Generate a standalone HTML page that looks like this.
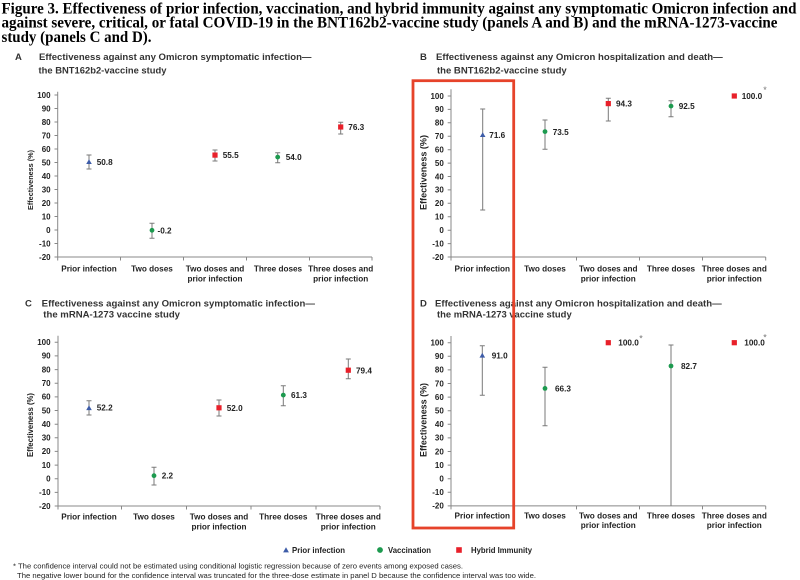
<!DOCTYPE html>
<html><head><meta charset="utf-8"><style>
html,body{margin:0;padding:0;background:#fff;}
svg{display:block;}
.t{font-family:"Liberation Serif",serif;font-weight:bold;font-size:16px;fill:#000;}
.pt{font-family:"Liberation Sans",sans-serif;font-weight:bold;font-size:9.5px;fill:#333;}
.tk{font-family:"Liberation Sans",sans-serif;font-weight:bold;font-size:8px;fill:#222;text-anchor:end;}
.cl{font-family:"Liberation Sans",sans-serif;font-weight:bold;font-size:8.2px;fill:#222;text-anchor:middle;}
.dl{font-family:"Liberation Sans",sans-serif;font-weight:bold;font-size:8.2px;fill:#222;}
.yt{font-family:"Liberation Sans",sans-serif;font-weight:bold;fill:#222;text-anchor:middle;}
.fn{font-family:"Liberation Sans",sans-serif;font-size:7.3px;fill:#222;}
.ax{stroke:#888;stroke-width:1;fill:none;}
.eb{stroke:#7a7a7a;stroke-width:1;fill:none;}
.ast{font-family:"Liberation Sans",sans-serif;font-size:9px;fill:#777;}
</style></head><body>
<svg width="800" height="580" viewBox="0 0 800 580" xmlns="http://www.w3.org/2000/svg">
<!-- Main title -->
<text class="t" x="1.5" y="13.5" textLength="795" lengthAdjust="spacingAndGlyphs">Figure 3. Effectiveness of prior infection, vaccination, and hybrid immunity against any symptomatic Omicron infection and</text>
<text class="t" x="1.5" y="27.5" textLength="776" lengthAdjust="spacingAndGlyphs">against severe, critical, or fatal COVID-19 in the BNT162b2-vaccine study (panels A and B) and the mRNA-1273-vaccine</text>
<text class="t" x="1.5" y="41.8" textLength="150" lengthAdjust="spacingAndGlyphs">study (panels C and D).</text>

<!-- Panel titles -->
<text class="pt" x="15" y="60">A</text>
<text class="pt" x="39" y="60" textLength="272.5" lengthAdjust="spacingAndGlyphs">Effectiveness against any Omicron symptomatic infection—</text>
<text class="pt" x="38.5" y="73.3" textLength="128" lengthAdjust="spacingAndGlyphs">the BNT162b2-vaccine study</text>

<text class="pt" x="420" y="60">B</text>
<text class="pt" x="436" y="60" textLength="286.7" lengthAdjust="spacingAndGlyphs">Effectiveness against any Omicron hospitalization and death—</text>
<text class="pt" x="437" y="73.3" textLength="129.7" lengthAdjust="spacingAndGlyphs">the BNT162b2-vaccine study</text>

<text class="pt" x="25" y="306.7">C</text>
<text class="pt" x="41.7" y="306.7" textLength="273.3" lengthAdjust="spacingAndGlyphs">Effectiveness against any Omicron symptomatic infection—</text>
<text class="pt" x="43.3" y="317.6" textLength="136.7" lengthAdjust="spacingAndGlyphs">the mRNA-1273 vaccine study</text>

<text class="pt" x="420" y="306.5">D</text>
<text class="pt" x="435" y="306.5" textLength="286.7" lengthAdjust="spacingAndGlyphs">Effectiveness against any Omicron hospitalization and death—</text>
<text class="pt" x="437" y="317.6" textLength="134.7" lengthAdjust="spacingAndGlyphs">the mRNA-1273 vaccine study</text>

<!-- ===== Panel A ===== -->
<g>
<path class="ax" d="M57.7 91.7 V257 H372"/>
<path class="ax" d="M54.5 95H57.7M54.5 108.5H57.7M54.5 122H57.7M54.5 135.5H57.7M54.5 149H57.7M54.5 162.5H57.7M54.5 176H57.7M54.5 189.5H57.7M54.5 203H57.7M54.5 216.5H57.7M54.5 230H57.7M54.5 243.5H57.7M54.5 257H57.7"/>
<path class="ax" d="M57.7 257V260.5M120.5 257V260.5M183.5 257V260.5M246.5 257V260.5M309.5 257V260.5M372 257V260.5"/>
<text class="tk" x="50.6" y="97.8">100</text>
<text class="tk" x="50.6" y="111.3">90</text>
<text class="tk" x="50.6" y="124.8">80</text>
<text class="tk" x="50.6" y="138.3">70</text>
<text class="tk" x="50.6" y="151.8">60</text>
<text class="tk" x="50.6" y="165.3">50</text>
<text class="tk" x="50.6" y="178.8">40</text>
<text class="tk" x="50.6" y="192.3">30</text>
<text class="tk" x="50.6" y="205.8">20</text>
<text class="tk" x="50.6" y="219.3">10</text>
<text class="tk" x="50.6" y="232.8">0</text>
<text class="tk" x="50.6" y="246.3">-10</text>
<text class="tk" x="50.6" y="259.8">-20</text>
<text class="yt" font-size="7.4" transform="translate(33,180) rotate(-90)" textLength="60" lengthAdjust="spacingAndGlyphs">Effectiveness (%)</text>
<text class="cl" x="89" y="271.3">Prior infection</text>
<text class="cl" x="152" y="271.3">Two doses</text>
<text class="cl" x="215" y="271.3">Two doses and</text>
<text class="cl" x="215" y="281.3">prior infection</text>
<text class="cl" x="278" y="271.3">Three doses</text>
<text class="cl" x="340.7" y="271.3">Three doses and</text>
<text class="cl" x="340.7" y="281.3">prior infection</text>
<path class="eb" d="M89 155V169M86.5 155H91.5M86.5 169H91.5"/>
<path class="eb" d="M152 223.3V238.3M149.5 223.3H154.5M149.5 238.3H154.5"/>
<path class="eb" d="M215 150V161M212.5 150H217.5M212.5 161H217.5"/>
<path class="eb" d="M277.7 152.7V162.7M275.2 152.7H280.2M275.2 162.7H280.2"/>
<path class="eb" d="M340.7 122.3V134M338.2 122.3H343.2M338.2 134H343.2"/>
<path d="M89 159.2 L91.8 164 L86.2 164Z" fill="#3d5ca8"/>
<circle cx="152" cy="230.3" r="2.4" fill="#1d9a4f"/>
<rect x="212.4" y="152.5" width="5.2" height="5.2" fill="#e8202a"/>
<circle cx="277.7" cy="157.1" r="2.4" fill="#1d9a4f"/>
<rect x="338.1" y="124.4" width="5.2" height="5.2" fill="#e8202a"/>
<text class="dl" x="96.7" y="165">50.8</text>
<text class="dl" x="157.5" y="233.3">-0.2</text>
<text class="dl" x="222.7" y="158">55.5</text>
<text class="dl" x="285.7" y="160">54.0</text>
<text class="dl" x="348.3" y="130">76.3</text>
</g>

<!-- ===== Panel B ===== -->
<g>
<path class="ax" d="M451 89.3 V257 H765.7"/>
<path class="ax" d="M447.7 96H451M447.7 109.4H451M447.7 122.8H451M447.7 136.3H451M447.7 149.7H451M447.7 163.1H451M447.7 176.5H451M447.7 189.9H451M447.7 203.3H451M447.7 216.8H451M447.7 230.2H451M447.7 243.6H451M447.7 257H451"/>
<path class="ax" d="M451 257V260.5M513.5 257V260.5M576.5 257V260.5M639.5 257V260.5M702.5 257V260.5M765.7 257V260.5"/>
<text class="tk" x="443.8" y="98.8">100</text>
<text class="tk" x="443.8" y="112.2">90</text>
<text class="tk" x="443.8" y="125.6">80</text>
<text class="tk" x="443.8" y="139.1">70</text>
<text class="tk" x="443.8" y="152.5">60</text>
<text class="tk" x="443.8" y="165.9">50</text>
<text class="tk" x="443.8" y="179.3">40</text>
<text class="tk" x="443.8" y="192.7">30</text>
<text class="tk" x="443.8" y="206.1">20</text>
<text class="tk" x="443.8" y="219.6">10</text>
<text class="tk" x="443.8" y="233">0</text>
<text class="tk" x="443.8" y="246.4">-10</text>
<text class="tk" x="443.8" y="259.8">-20</text>
<text class="yt" font-size="9" transform="translate(426.5,172.5) rotate(-90)" textLength="75" lengthAdjust="spacingAndGlyphs">Effectiveness (%)</text>
<text class="cl" x="482.3" y="271.3">Prior infection</text>
<text class="cl" x="545" y="271.3">Two doses</text>
<text class="cl" x="608.3" y="271.3">Two doses and</text>
<text class="cl" x="608.3" y="281.3">prior infection</text>
<text class="cl" x="671" y="271.3">Three doses</text>
<text class="cl" x="734.3" y="271.3">Three doses and</text>
<text class="cl" x="734.3" y="281.3">prior infection</text>
<path class="eb" d="M482.7 109V210M480.2 109H485.2M480.2 210H485.2"/>
<path class="eb" d="M545 120V149.3M542.5 120H547.5M542.5 149.3H547.5"/>
<path class="eb" d="M608.3 98.3V121M605.8 98.3H610.8M605.8 121H610.8"/>
<path class="eb" d="M671 100.7V116.7M668.5 100.7H673.5M668.5 116.7H673.5"/>
<path d="M482.7 132.2 L485.5 137 L479.9 137Z" fill="#3d5ca8"/>
<circle cx="545" cy="131.6" r="2.4" fill="#1d9a4f"/>
<rect x="605.7" y="101" width="5.2" height="5.2" fill="#e8202a"/>
<circle cx="671" cy="106.1" r="2.4" fill="#1d9a4f"/>
<rect x="731.7" y="93.4" width="5.2" height="5.2" fill="#e8202a"/>
<text class="dl" x="489.3" y="138">71.6</text>
<text class="dl" x="552.7" y="134.8">73.5</text>
<text class="dl" x="616" y="106.5">94.3</text>
<text class="dl" x="678.7" y="109.2">92.5</text>
<text class="dl" x="741.7" y="99">100.0</text>
<text class="ast" x="763.3" y="93">*</text>
</g>

<!-- ===== Panel C ===== -->
<g>
<path class="ax" d="M58 335.7 V506 H380"/>
<path class="ax" d="M54.7 342.3H58M54.7 355.9H58M54.7 369.6H58M54.7 383.2H58M54.7 396.9H58M54.7 410.5H58M54.7 424.2H58M54.7 437.8H58M54.7 451.4H58M54.7 465.1H58M54.7 478.7H58M54.7 492.4H58M54.7 506H58"/>
<path class="ax" d="M58 506V509.5M121.5 506V509.5M186.5 506V509.5M251 506V509.5M316 506V509.5M380 506V509.5"/>
<text class="tk" x="50.6" y="345.1">100</text>
<text class="tk" x="50.6" y="358.7">90</text>
<text class="tk" x="50.6" y="372.4">80</text>
<text class="tk" x="50.6" y="386">70</text>
<text class="tk" x="50.6" y="399.7">60</text>
<text class="tk" x="50.6" y="413.3">50</text>
<text class="tk" x="50.6" y="427">40</text>
<text class="tk" x="50.6" y="440.6">30</text>
<text class="tk" x="50.6" y="454.2">20</text>
<text class="tk" x="50.6" y="467.9">10</text>
<text class="tk" x="50.6" y="481.5">0</text>
<text class="tk" x="50.6" y="495.2">-10</text>
<text class="tk" x="50.6" y="508.8">-20</text>
<text class="yt" font-size="7.8" transform="translate(33,425) rotate(-90)" textLength="64" lengthAdjust="spacingAndGlyphs">Effectiveness (%)</text>
<text class="cl" x="89" y="519.7">Prior infection</text>
<text class="cl" x="154" y="519.7">Two doses</text>
<text class="cl" x="219" y="519.7">Two doses and</text>
<text class="cl" x="219" y="529.7">prior infection</text>
<text class="cl" x="283.3" y="519.7">Three doses</text>
<text class="cl" x="348.3" y="519.7">Three doses and</text>
<text class="cl" x="348.3" y="529.7">prior infection</text>
<path class="eb" d="M89 400.7V415M86.5 400.7H91.5M86.5 415H91.5"/>
<path class="eb" d="M154 467.3V485M151.5 467.3H156.5M151.5 485H156.5"/>
<path class="eb" d="M219 400V416M216.5 400H221.5M216.5 416H221.5"/>
<path class="eb" d="M283.3 385.7V405.7M280.8 385.7H285.8M280.8 405.7H285.8"/>
<path class="eb" d="M348.3 359V378.7M345.8 359H350.8M345.8 378.7H350.8"/>
<path d="M89 405.3 L91.8 410.1 L86.2 410.1Z" fill="#3d5ca8"/>
<circle cx="154" cy="475.7" r="2.4" fill="#1d9a4f"/>
<rect x="216.4" y="405.2" width="5.2" height="5.2" fill="#e8202a"/>
<circle cx="283.3" cy="395.1" r="2.4" fill="#1d9a4f"/>
<rect x="345.7" y="367.6" width="5.2" height="5.2" fill="#e8202a"/>
<text class="dl" x="96.7" y="410.7">52.2</text>
<text class="dl" x="161.7" y="478.7">2.2</text>
<text class="dl" x="226.7" y="410.8">52.0</text>
<text class="dl" x="291" y="398.1">61.3</text>
<text class="dl" x="356" y="373.3">79.4</text>
</g>

<!-- ===== Panel D ===== -->
<g>
<path class="ax" d="M451 336 V505.9 H765.7"/>
<path class="ax" d="M447.7 342.7H451M447.7 356.3H451M447.7 369.9H451M447.7 383.5H451M447.7 397.1H451M447.7 410.7H451M447.7 424.3H451M447.7 437.9H451M447.7 451.5H451M447.7 465.1H451M447.7 478.7H451M447.7 492.3H451M447.7 505.9H451"/>
<path class="ax" d="M451 505.9V509.4M513.5 505.9V509.4M576.5 505.9V509.4M639.5 505.9V509.4M702.5 505.9V509.4M765.7 505.9V509.4"/>
<text class="tk" x="443.8" y="345.5">100</text>
<text class="tk" x="443.8" y="359.1">90</text>
<text class="tk" x="443.8" y="372.7">80</text>
<text class="tk" x="443.8" y="386.3">70</text>
<text class="tk" x="443.8" y="399.9">60</text>
<text class="tk" x="443.8" y="413.5">50</text>
<text class="tk" x="443.8" y="427.1">40</text>
<text class="tk" x="443.8" y="440.7">30</text>
<text class="tk" x="443.8" y="454.3">20</text>
<text class="tk" x="443.8" y="467.9">10</text>
<text class="tk" x="443.8" y="481.5">0</text>
<text class="tk" x="443.8" y="495.1">-10</text>
<text class="tk" x="443.8" y="508.7">-20</text>
<text class="yt" font-size="9" transform="translate(426.5,420) rotate(-90)" textLength="74" lengthAdjust="spacingAndGlyphs">Effectiveness (%)</text>
<text class="cl" x="482.3" y="518.3">Prior infection</text>
<text class="cl" x="545" y="518.3">Two doses</text>
<text class="cl" x="608.3" y="518.3">Two doses and</text>
<text class="cl" x="608.3" y="528">prior infection</text>
<text class="cl" x="671" y="518.3">Three doses</text>
<text class="cl" x="734.3" y="518.3">Three doses and</text>
<text class="cl" x="734.3" y="528">prior infection</text>
<path class="eb" d="M482.3 345.7V395.3M479.8 345.7H484.8M479.8 395.3H484.8"/>
<path class="eb" d="M545 367.3V425.7M542.5 367.3H547.5M542.5 425.7H547.5"/>
<path class="eb" d="M671 345V505.9M668.5 345H673.5"/>
<path d="M482.3 352.8 L485.1 357.6 L479.5 357.6Z" fill="#3d5ca8"/>
<circle cx="545" cy="388.4" r="2.4" fill="#1d9a4f"/>
<rect x="605.7" y="340.1" width="5.2" height="5.2" fill="#e8202a"/>
<circle cx="671" cy="366" r="2.4" fill="#1d9a4f"/>
<rect x="731.7" y="340.1" width="5.2" height="5.2" fill="#e8202a"/>
<text class="dl" x="491.7" y="358.5">91.0</text>
<text class="dl" x="555" y="391.5">66.3</text>
<text class="dl" x="618.3" y="345.7">100.0</text>
<text class="ast" x="639.3" y="341.5">*</text>
<text class="dl" x="681" y="369">82.7</text>
<text class="dl" x="744.3" y="345.7">100.0</text>
<text class="ast" x="763.3" y="340.5">*</text>
</g>

<!-- Red highlight box -->
<rect x="413" y="80.7" width="100.7" height="447.3" fill="none" stroke="#e6432a" stroke-width="2.8"/>

<!-- Legend -->
<path d="M286 547.2 L288.9 552.4 L283.1 552.4Z" fill="#3d5ca8"/>
<text class="dl" x="292" y="552.8" textLength="53" lengthAdjust="spacingAndGlyphs">Prior infection</text>
<circle cx="380" cy="550" r="2.9" fill="#1d9a4f"/>
<text class="dl" x="388" y="552.8" textLength="43" lengthAdjust="spacingAndGlyphs">Vaccination</text>
<rect x="456.2" y="547.2" width="5.6" height="5.6" fill="#e8202a"/>
<text class="dl" x="471" y="552.8" textLength="61" lengthAdjust="spacingAndGlyphs">Hybrid Immunity</text>

<!-- Footnotes -->
<text class="fn" x="13" y="568.5" textLength="450" lengthAdjust="spacingAndGlyphs">* The confidence interval could not be estimated using conditional logistic regression because of zero events among exposed cases.</text>
<text class="fn" x="17" y="577.8" textLength="519" lengthAdjust="spacingAndGlyphs">The negative lower bound for the confidence interval was truncated for the three-dose estimate in panel D because the confidence interval was too wide.</text>
</svg>
</body></html>
